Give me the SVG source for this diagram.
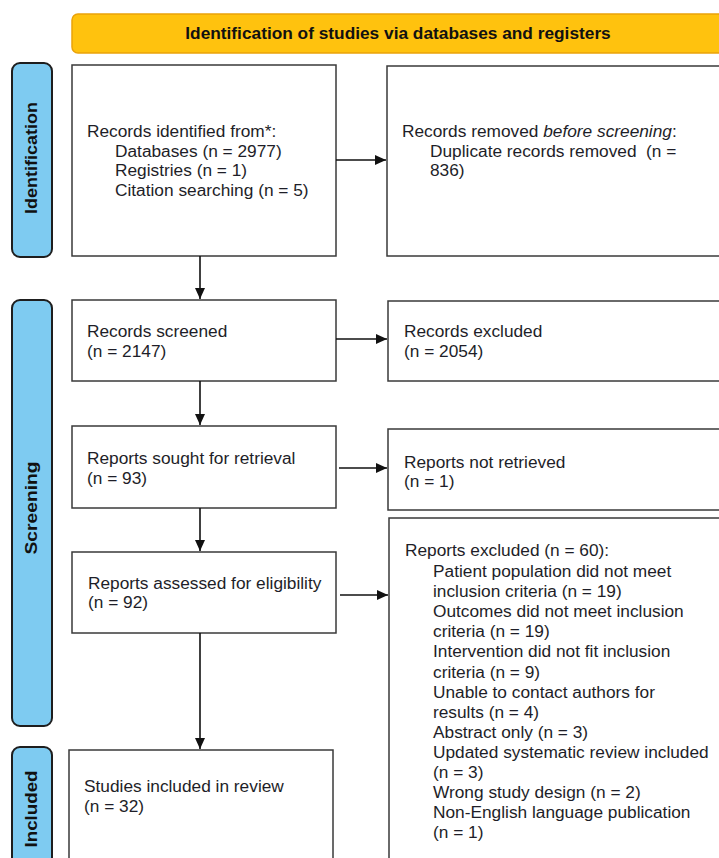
<svg xmlns="http://www.w3.org/2000/svg" width="719" height="858" viewBox="0 0 719 858">
<style>
.box{fill:#fff;stroke:#3a3a3a;stroke-width:1.5}
.side{fill:#7ecbf1;stroke:#1e1e1e;stroke-width:2}
.t{font-family:"Liberation Sans",Arial,sans-serif;font-size:17.3px;fill:#1e1e28}
.sl{font-family:"Liberation Sans",Arial,sans-serif;font-size:17px;font-weight:bold;fill:#111}
.ttl{font-family:"Liberation Sans",Arial,sans-serif;font-size:17.3px;font-weight:bold;fill:#111}
.c{fill:none;stroke:#111;stroke-width:1.6}
</style>
<defs>
<marker id="ah" markerUnits="userSpaceOnUse" markerWidth="12" markerHeight="12" refX="11" refY="6" orient="auto">
<path d="M0,1 L11,6 L0,11 Z" fill="#111"/>
</marker>
</defs>
<rect width="719" height="858" fill="#fff"/>
<g id="banner">
<rect x="72" y="14" width="670" height="39" rx="6" fill="#ffc20e" stroke="#eaa20a" stroke-width="1.5"/>
<text class="ttl" x="398" y="39" text-anchor="middle">Identification of studies via databases and registers</text>
</g>
<g id="side-identification">
<rect class="side" x="12" y="63" width="40" height="194" rx="8"/>
<text class="sl" transform="translate(37,158) rotate(-90)" text-anchor="middle" textLength="112" lengthAdjust="spacingAndGlyphs">Identification</text>
</g>
<g id="side-screening">
<rect class="side" x="12" y="300" width="40" height="426" rx="8"/>
<text class="sl" transform="translate(37,508) rotate(-90)" text-anchor="middle" textLength="93" lengthAdjust="spacingAndGlyphs">Screening</text>
</g>
<g id="side-included">
<rect class="side" x="12" y="747" width="40" height="130" rx="8"/>
<text class="sl" transform="translate(37,809) rotate(-90)" text-anchor="middle" textLength="77" lengthAdjust="spacingAndGlyphs">Included</text>
</g>
<g id="records-identified">
<rect class="box" x="72" y="65" width="264" height="191"/>
<text class="t" x="87" y="137">Records identified from*:</text>
<text class="t" x="115" y="157">Databases (n = 2977)</text>
<text class="t" x="115" y="176">Registries (n = 1)</text>
<text class="t" x="115" y="196">Citation searching (n = 5)</text>
</g>
<g id="records-removed">
<rect class="box" x="387" y="66" width="345" height="190"/>
<text class="t" x="402" y="137">Records removed <tspan font-style="italic">before screening</tspan>:</text>
<text class="t" x="430" y="157" xml:space="preserve">Duplicate records removed  (n =</text>
<text class="t" x="430" y="176">836)</text>
</g>
<g id="records-screened">
<rect class="box" x="72" y="300" width="264" height="81"/>
<text class="t" x="87" y="337">Records screened</text>
<text class="t" x="87" y="357">(n = 2147)</text>
</g>
<g id="records-excluded">
<rect class="box" x="388" y="301" width="345" height="80"/>
<text class="t" x="404" y="337">Records excluded</text>
<text class="t" x="404" y="357">(n = 2054)</text>
</g>
<g id="reports-sought">
<rect class="box" x="72" y="426" width="264" height="82"/>
<text class="t" x="87" y="464">Reports sought for retrieval</text>
<text class="t" x="87" y="484">(n = 93)</text>
</g>
<g id="reports-not-retrieved">
<rect class="box" x="388" y="429" width="345" height="81"/>
<text class="t" x="404" y="468">Reports not retrieved</text>
<text class="t" x="404" y="487">(n = 1)</text>
</g>
<g id="reports-assessed">
<rect class="box" x="72" y="552" width="264" height="81"/>
<text class="t" x="88" y="589">Reports assessed for eligibility</text>
<text class="t" x="88" y="608">(n = 92)</text>
</g>
<g id="reports-excluded">
<rect class="box" x="389" y="518" width="345" height="360"/>
<text class="t" x="405" y="556">Reports excluded (n = 60):</text>
<text class="t" x="433" y="577">Patient population did not meet</text>
<text class="t" x="433" y="597">inclusion criteria (n = 19)</text>
<text class="t" x="433" y="617">Outcomes did not meet inclusion</text>
<text class="t" x="433" y="637">criteria (n = 19)</text>
<text class="t" x="433" y="657">Intervention did not fit inclusion</text>
<text class="t" x="433" y="678">criteria (n = 9)</text>
<text class="t" x="433" y="698">Unable to contact authors for</text>
<text class="t" x="433" y="718">results (n = 4)</text>
<text class="t" x="433" y="738">Abstract only (n = 3)</text>
<text class="t" x="433" y="758">Updated systematic review included</text>
<text class="t" x="433" y="778">(n = 3)</text>
<text class="t" x="433" y="798">Wrong study design (n = 2)</text>
<text class="t" x="433" y="818">Non-English language publication</text>
<text class="t" x="433" y="838">(n = 1)</text>
</g>
<g id="studies-included">
<rect class="box" x="69" y="750" width="264" height="125"/>
<text class="t" x="84" y="792">Studies included in review</text>
<text class="t" x="84" y="812">(n = 32)</text>
</g>
<g id="connectors">
<line class="c" x1="336" y1="160" x2="386" y2="160" marker-end="url(#ah)"/>
<line class="c" x1="200" y1="256" x2="200" y2="299" marker-end="url(#ah)"/>
<line class="c" x1="336" y1="339" x2="387" y2="339" marker-end="url(#ah)"/>
<line class="c" x1="200" y1="381" x2="200" y2="425" marker-end="url(#ah)"/>
<line class="c" x1="339" y1="468" x2="387" y2="468" marker-end="url(#ah)"/>
<line class="c" x1="200" y1="508" x2="200" y2="551" marker-end="url(#ah)"/>
<line class="c" x1="340" y1="595" x2="388" y2="595" marker-end="url(#ah)"/>
<line class="c" x1="200" y1="633" x2="200" y2="749" marker-end="url(#ah)"/>
</g>
</svg>
